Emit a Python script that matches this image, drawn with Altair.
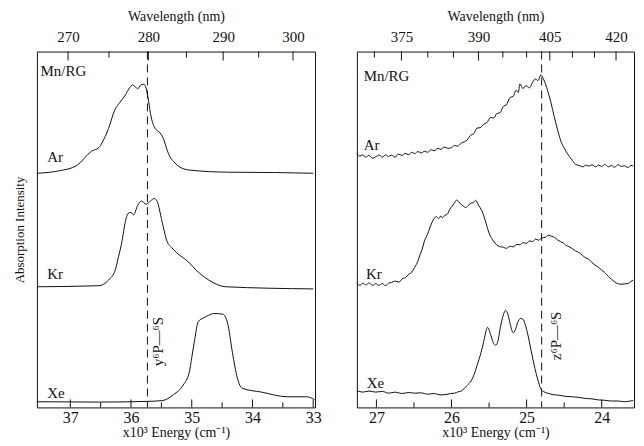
import altair as alt
import pandas as pd

SERIF = "Liberation Serif"

# ---------------- Left panel: y6P <- 6S region (energy in 10^3 cm^-1) ----------------
L_AR_E = [37.55, 37.18, 36.90, 36.65, 36.53, 36.48, 36.37, 36.27, 36.18, 36.10, 36.02, 35.98,
          35.93, 35.89, 35.84, 35.79, 35.76, 35.72, 35.68, 35.62, 35.57, 35.52, 35.46, 35.41,
          35.36, 35.30, 35.22, 35.04, 34.40, 33.64, 33.00]
L_AR_I = [65.8, 66.5, 67.9, 72.0, 73.0, 74.3, 78.4, 83.5, 85.8, 87.6, 89.9, 90.6,
          90.1, 89.5, 90.6, 90.8, 90.1, 87.1, 82.6, 78.9, 77.8, 77.1, 75.2, 72.5,
          70.5, 69.1, 67.8, 66.7, 66.1, 66.0, 65.8]

L_KR_E = [37.55, 36.53, 36.37, 36.26, 36.21, 36.16, 36.08, 36.05, 36.00, 35.96, 35.89, 35.83,
          35.75, 35.68, 35.62, 35.57, 35.49, 35.41, 35.33, 35.25, 35.05, 34.93, 34.72, 34.44, 33.00]
L_KR_I = [33.9, 34.2, 35.8, 38.6, 42.1, 45.7, 53.2, 54.5, 54.8, 54.1, 56.8, 58.0,
          57.1, 58.0, 58.7, 57.9, 52.3, 46.8, 44.9, 43.5, 40.8, 38.6, 35.8, 33.9, 33.3]

L_XE_E = [37.55, 36.53, 35.73, 35.49, 35.30, 35.14, 35.04, 35.00, 34.96, 34.89, 34.81, 34.72,
          34.64, 34.49, 34.41, 34.33, 34.25, 34.17, 33.85, 33.43, 33.11, 32.98]
L_XE_I = [1.6, 1.5, 1.7, 1.9, 3.6, 6.3, 9.9, 14.0, 18.2, 24.2, 25.1, 25.9,
          26.4, 26.2, 23.7, 15.4, 8.3, 5.4, 4.3, 3.0, 3.0, 2.2]

# ---------------- Right panel: z6P <- 6S region ----------------
R_AR_E = [27.26, 27.22, 27.18, 27.14, 27.10, 27.05, 27.01, 26.96, 26.92, 26.88, 26.84, 26.80,
          26.75, 26.71, 26.66, 26.62, 26.57, 26.53, 26.49, 26.45, 26.40, 26.36, 26.32, 26.27,
          26.23, 26.18, 26.14, 26.10, 26.05, 26.00, 25.96, 25.92, 25.87, 25.83, 25.79, 25.75,
          25.70, 25.66, 25.62, 25.57, 25.53, 25.48, 25.44, 25.40, 25.35, 25.31, 25.27, 25.22,
          25.18, 25.14, 25.11, 25.09, 25.05, 25.01, 24.96, 24.92, 24.88, 24.85, 24.81, 24.77,
          24.72, 24.68, 24.63, 24.59, 24.55, 24.49, 24.43, 24.39, 24.35, 24.30, 24.25, 24.21,
          24.17, 24.13, 24.08, 24.04, 24.00, 23.96, 23.91, 23.87, 23.83, 23.78, 23.74, 23.70,
          23.65, 23.61, 23.58]
R_AR_I = [71.3, 70.6, 71.0, 70.3, 70.8, 70.0, 70.4, 70.9, 70.3, 71.0, 70.5, 70.9,
          70.3, 71.2, 70.8, 71.4, 71.0, 71.7, 71.3, 71.9, 71.5, 72.0, 71.7, 72.4,
          72.1, 72.8, 72.5, 73.2, 72.8, 73.0, 73.6, 73.4, 74.3, 74.6, 75.2, 76.4,
          77.0, 78.5, 78.6, 79.6, 80.0, 81.5, 81.3, 82.5, 82.9, 84.6, 85.0, 87.1,
          87.4, 89.1, 88.5, 90.9, 89.6, 90.4, 89.8, 91.4, 92.3, 91.8, 93.4, 92.0,
          89.0, 86.0, 81.5, 78.2, 75.2, 72.5, 70.5, 69.4, 68.3, 68.0, 67.6, 68.1,
          67.8, 68.2, 67.6, 68.1, 67.7, 68.3, 67.6, 68.0, 67.5, 68.2, 67.7, 67.9,
          67.4, 68.0, 67.8]

R_KR_E = [27.26, 27.22, 27.18, 27.14, 27.10, 27.05, 27.01, 26.97, 26.92, 26.88, 26.84, 26.80,
          26.75, 26.70, 26.66, 26.62, 26.57, 26.53, 26.49, 26.45, 26.42, 26.39, 26.36, 26.32,
          26.29, 26.26, 26.23, 26.20, 26.17, 26.14, 26.12, 26.09, 26.06, 26.02, 25.99, 25.96,
          25.93, 25.90, 25.87, 25.84, 25.81, 25.77, 25.74, 25.71, 25.68, 25.64, 25.60, 25.57,
          25.55, 25.51, 25.48, 25.45, 25.40, 25.36, 25.31, 25.27, 25.22, 25.18, 25.13, 25.09,
          25.05, 25.00, 24.96, 24.92, 24.88, 24.84, 24.80, 24.75, 24.71, 24.67, 24.63, 24.59,
          24.55, 24.51, 24.48, 24.43, 24.39, 24.35, 24.30, 24.26, 24.22, 24.17, 24.13, 24.09,
          24.04, 24.00, 23.96, 23.91, 23.87, 23.83, 23.79, 23.74, 23.70, 23.65, 23.61, 23.58]
R_KR_I = [35.0, 34.3, 34.9, 34.4, 35.0, 34.3, 34.8, 34.3, 34.8, 34.2, 34.9, 35.1,
          35.5, 35.2, 36.1, 36.4, 37.4, 38.0, 39.4, 41.0, 42.9, 44.5, 46.8, 48.6,
          50.4, 52.0, 53.2, 53.6, 53.1, 53.8, 53.3, 54.0, 54.2, 55.8, 56.6, 57.5,
          58.3, 57.6, 57.0, 56.5, 56.2, 56.9, 57.4, 57.6, 58.2, 56.8, 55.4, 53.8,
          52.5, 49.6, 48.0, 47.0, 45.7, 45.2, 45.0, 44.7, 45.3, 45.1, 45.8, 45.7,
          46.3, 46.1, 46.8, 46.6, 47.3, 47.0, 47.6, 47.8, 48.4, 48.1, 47.8, 47.1,
          46.6, 46.2, 45.6, 45.1, 44.6, 44.0, 43.5, 42.8, 42.1, 41.6, 40.7, 40.0,
          39.3, 38.6, 37.9, 36.8, 36.0, 35.3, 34.8, 34.6, 34.7, 34.8, 35.4, 35.8]

R_XE_E = [27.26, 27.18, 27.10, 27.01, 26.92, 26.84, 26.75, 26.66, 26.57, 26.49, 26.40, 26.32,
          26.23, 26.14, 26.06, 26.01, 25.96, 25.91, 25.87, 25.83, 25.79, 25.74, 25.70, 25.66,
          25.61, 25.57, 25.54, 25.52, 25.50, 25.47, 25.44, 25.41, 25.38, 25.35, 25.31, 25.28,
          25.25, 25.22, 25.18, 25.15, 25.12, 25.08, 25.05, 25.02, 24.98, 24.94, 24.89, 24.85,
          24.81, 24.77, 24.72, 24.65, 24.56, 24.48, 24.39, 24.30, 24.21, 24.13, 24.04, 23.96,
          23.87, 23.78, 23.70, 23.62, 23.58]
R_XE_I = [4.7, 4.3, 4.6, 4.3, 4.5, 4.0, 4.3, 3.9, 4.2, 4.0, 4.1, 3.7,
          3.9, 3.5, 3.7, 3.9, 4.0, 4.4, 4.6, 5.3, 6.2, 7.4, 9.2, 11.8,
          15.2, 18.6, 21.5, 22.5, 21.8, 19.8, 18.0, 17.5, 18.8, 22.4, 26.0, 27.3,
          26.2, 23.6, 21.0, 21.8, 23.8, 25.0, 24.8, 23.4, 20.1, 16.0, 11.0, 7.7,
          5.2, 4.4, 4.0, 3.6, 3.4, 3.1, 3.0, 2.8, 2.5, 2.4, 2.1, 2.0,
          1.8, 1.8, 1.6, 1.8, 1.9]

# axis ticks
L_E_MAJOR = [37, 36, 35, 34, 33]
L_E_MINOR = [36.5, 35.5, 34.5, 33.5]
L_NM_MAJOR = [270, 280, 290, 300]
L_NM_MINOR = [275, 285, 295]
R_E_MAJOR = [27, 26, 25, 24]
R_E_MINOR = [26.5, 25.5, 24.5]
R_NM_MAJOR = [375, 390, 405, 420]
R_NM_MINOR = [370, 380, 385, 395, 400, 410, 415]

# annotations
L_LABEL_TEXT = ["Mn/RG", "Ar", "Kr", "Xe"]
L_LABEL_E = [37.49, 37.38, 37.38, 37.38]
L_LABEL_I = [94.5, 70.5, 37.5, 4.1]
R_LABEL_TEXT = ["Mn/RG", "Ar", "Kr", "Xe"]
R_LABEL_E = [27.17, 27.17, 27.14, 27.13]
R_LABEL_I = [93.1, 73.8, 37.5, 6.9]
L_TRANS_E, L_TRANS_TEXT, L_TRANS_TE, L_TRANS_TI = 35.73, "y\u2076P\u2014\u2076S", 35.55, 18.5
R_TRANS_E, R_TRANS_TEXT, R_TRANS_TE, R_TRANS_TI = 24.80, "z\u2076P\u2014\u2076S", 24.61, 20.1

W_L, W_R, H = 279, 278, 357


def traces_df(series):
    rows = []
    for name, es, vs in series:
        for e, v in zip(es, vs):
            rows.append({"trace": name, "E": e, "I": v})
    return pd.DataFrame(rows)


def panel(series, xdom, e_major, e_minor, nm_major, nm_minor, lab_text, lab_e, lab_i,
          trans_e, trans_text, trans_te, trans_ti, width, show_y):
    xs = alt.Scale(domain=xdom, nice=False, zero=False)
    ys = alt.Scale(domain=[0, 100], nice=False, zero=False)
    if show_y:
        yaxis = alt.Axis(title="Absorption Intensity", labels=False, ticks=False, domain=False,
                         grid=False, titleFont=SERIF, titleFontSize=13, titleFontWeight="normal",
                         titleColor="#111", titlePadding=10)
    else:
        yaxis = None

    lines = alt.Chart(traces_df(series)).mark_line(
        color="#111", strokeWidth=1, interpolate="monotone"
    ).encode(
        x=alt.X("E:Q", scale=xs, axis=alt.Axis(
            orient="bottom", values=e_major, format="d", ticks=False, domain=False, grid=False,
            title="x10\u00b3 Energy (cm\u207b\u00b9)", labelPadding=2, titlePadding=0,
            labelFontSize=16)),
        y=alt.Y("I:Q", scale=ys, axis=yaxis),
        detail="trace:N",
    )

    top_major = alt.Chart(pd.DataFrame({"nm": nm_major})).transform_calculate(
        E="10000/datum.nm").mark_rule(color="#111").encode(
        x=alt.X("E:Q", scale=xs, axis=alt.Axis(
            orient="top", values=[1e4 / w for w in nm_major],
            labelExpr="format(10000/datum.value, '.0f')", ticks=False, domain=False,
            grid=False, title="Wavelength (nm)", labelPadding=7, titlePadding=6)),
        y=alt.value(0), y2=alt.value(9),
    )
    top_minor = alt.Chart(pd.DataFrame({"nm": nm_minor})).transform_calculate(
        E="10000/datum.nm").mark_rule(color="#111").encode(
        x=alt.X("E:Q", scale=xs, axis=None), y=alt.value(0), y2=alt.value(6))
    bot_major = alt.Chart(pd.DataFrame({"E": e_major})).mark_rule(color="#111").encode(
        x=alt.X("E:Q", scale=xs, axis=None), y=alt.value(H), y2=alt.value(H - 8))
    bot_minor = alt.Chart(pd.DataFrame({"E": e_minor})).mark_rule(color="#111").encode(
        x=alt.X("E:Q", scale=xs, axis=None), y=alt.value(H), y2=alt.value(H - 5))

    trans = alt.Chart(pd.DataFrame({"E": [trans_e]})).mark_rule(
        color="#111", strokeDash=[8, 5], strokeWidth=1).encode(
        x=alt.X("E:Q", scale=xs, axis=None))

    labels = alt.Chart(pd.DataFrame({"E": lab_e, "I": lab_i, "t": lab_text})).mark_text(
        align="left", baseline="middle", font=SERIF, fontSize=15, color="#111").encode(
        x=alt.X("E:Q", scale=xs, axis=None), y=alt.Y("I:Q", scale=ys, axis=None), text="t:N")

    tlabel = alt.Chart(pd.DataFrame({"E": [trans_te], "I": [trans_ti], "t": [trans_text]})).mark_text(
        align="center", baseline="middle", angle=270, font=SERIF, fontSize=15, color="#111").encode(
        x=alt.X("E:Q", scale=xs, axis=None), y=alt.Y("I:Q", scale=ys, axis=None), text="t:N")

    return alt.layer(lines, top_major, top_minor, bot_major, bot_minor, trans, labels, tlabel).resolve_axis(
        x="independent", y="independent").properties(width=width, height=H)


left = panel([("Ar", L_AR_E, L_AR_I), ("Kr", L_KR_E, L_KR_I), ("Xe", L_XE_E, L_XE_I)],
             [37.55, 32.97], L_E_MAJOR, L_E_MINOR, L_NM_MAJOR, L_NM_MINOR,
             L_LABEL_TEXT, L_LABEL_E, L_LABEL_I, L_TRANS_E, L_TRANS_TEXT, L_TRANS_TE, L_TRANS_TI,
             W_L, True)
right = panel([("Ar", R_AR_E, R_AR_I), ("Kr", R_KR_E, R_KR_I), ("Xe", R_XE_E, R_XE_I)],
              [27.26, 23.57], R_E_MAJOR, R_E_MINOR, R_NM_MAJOR, R_NM_MINOR,
              R_LABEL_TEXT, R_LABEL_E, R_LABEL_I, R_TRANS_E, R_TRANS_TEXT, R_TRANS_TE, R_TRANS_TI,
              W_R, False)

chart = alt.hconcat(left, right, spacing=32).properties(
    padding={"left": 5, "top": 0, "right": 0, "bottom": 0}, background="white"
).configure_view(stroke="#111", strokeWidth=1).configure_axis(
    labelFont=SERIF, labelFontSize=15, labelColor="#111",
    titleFont=SERIF, titleFontSize=14, titleFontWeight="normal", titleColor="#111",
)

chart.save("out.html", embed_options={"renderer": "svg", "actions": False})
